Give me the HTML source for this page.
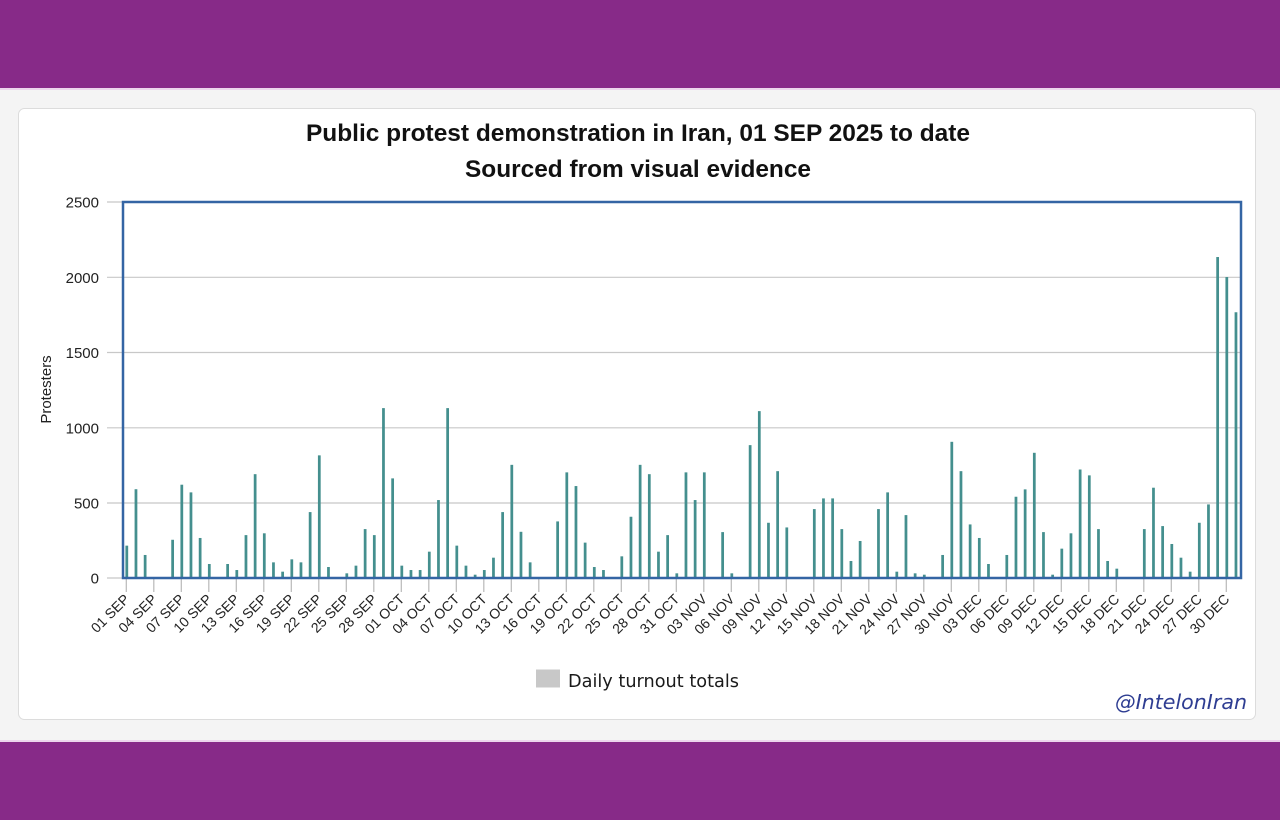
<!DOCTYPE html>
<html><head><meta charset="utf-8">
<style>
html,body{margin:0;padding:0;background:#f4f4f4;}
svg{display:block;}
</style></head>
<body>
<svg width="1280" height="820" viewBox="0 0 1280 820" xmlns="http://www.w3.org/2000/svg">
<rect x="0" y="0" width="1280" height="820" fill="#f4f4f4"/>
<rect x="0" y="0" width="1280" height="88" fill="#872a88"/>
<rect x="0" y="88" width="1280" height="2" fill="#ecd6ec"/>
<rect x="0" y="740" width="1280" height="2" fill="#ecd6ec"/>
<rect x="0" y="742" width="1280" height="78" fill="#872a88"/>
<!-- card -->
<rect x="18.5" y="108.5" width="1237" height="611" rx="6" ry="6" fill="#ffffff" stroke="#dcdcdc" stroke-width="1"/>
<!-- title -->
<text x="638" y="141" text-anchor="middle" font-family="Liberation Sans, Arial, sans-serif" font-weight="bold" font-size="24" fill="#111" textLength="664" lengthAdjust="spacingAndGlyphs">Public protest demonstration in Iran, 01 SEP 2025 to date</text>
<text x="638" y="177" text-anchor="middle" font-family="Liberation Sans, Arial, sans-serif" font-weight="bold" font-size="24" fill="#111" textLength="346" lengthAdjust="spacingAndGlyphs">Sourced from visual evidence</text>
<!-- gridlines -->
<g stroke="#c8c8c8" stroke-width="1.2">
<line x1="107" y1="202" x2="1241" y2="202"/>
<line x1="107" y1="277.3" x2="1241" y2="277.3"/>
<line x1="107" y1="352.5" x2="1241" y2="352.5"/>
<line x1="107" y1="427.8" x2="1241" y2="427.8"/>
<line x1="107" y1="503" x2="1241" y2="503"/>
<line x1="107" y1="578" x2="1241" y2="578"/>
</g>
<!-- y labels -->
<g font-family="Liberation Sans, Arial, sans-serif" font-size="15" fill="#222" text-anchor="end">
<text x="99" y="207.5">2500</text>
<text x="99" y="282.8">2000</text>
<text x="99" y="358">1500</text>
<text x="99" y="433.3">1000</text>
<text x="99" y="508.5">500</text>
<text x="99" y="583.5">0</text>
</g>
<text transform="translate(51,389.5) rotate(-90)" text-anchor="middle" font-family="Liberation Sans, Arial, sans-serif" font-size="15" fill="#222">Protesters</text>
<!-- x ticks -->
<g transform="translate(126.3,0) scale(27.5,1)" stroke="#bbbbbb" stroke-width="0.045">
<path d="M0 578V592M1 578V592M2 578V592M3 578V592M4 578V592M5 578V592M6 578V592M7 578V592M8 578V592M9 578V592M10 578V592M11 578V592M12 578V592M13 578V592M14 578V592M15 578V592M16 578V592M17 578V592M18 578V592M19 578V592M20 578V592M21 578V592M22 578V592M23 578V592M24 578V592M25 578V592M26 578V592M27 578V592M28 578V592M29 578V592M30 578V592M31 578V592M32 578V592M33 578V592M34 578V592M35 578V592M36 578V592M37 578V592M38 578V592M39 578V592M40 578V592"/>
</g>
<!-- bars -->
<g transform="translate(126.8,578) scale(9.1667,-0.15048)" fill="#448f8e">
<rect x="-0.15" width="0.3" y="0" height="215"/>
<rect x="0.85" width="0.3" y="0" height="590"/>
<rect x="1.85" width="0.3" y="0" height="153"/>
<rect x="4.85" width="0.3" y="0" height="254"/>
<rect x="5.85" width="0.3" y="0" height="620"/>
<rect x="6.85" width="0.3" y="0" height="569"/>
<rect x="7.85" width="0.3" y="0" height="266"/>
<rect x="8.85" width="0.3" y="0" height="93"/>
<rect x="10.85" width="0.3" y="0" height="93"/>
<rect x="11.85" width="0.3" y="0" height="53"/>
<rect x="12.85" width="0.3" y="0" height="285"/>
<rect x="13.85" width="0.3" y="0" height="690"/>
<rect x="14.85" width="0.3" y="0" height="297"/>
<rect x="15.85" width="0.3" y="0" height="104"/>
<rect x="16.85" width="0.3" y="0" height="42"/>
<rect x="17.85" width="0.3" y="0" height="124"/>
<rect x="18.85" width="0.3" y="0" height="104"/>
<rect x="19.85" width="0.3" y="0" height="438"/>
<rect x="20.85" width="0.3" y="0" height="815"/>
<rect x="21.85" width="0.3" y="0" height="73"/>
<rect x="23.85" width="0.3" y="0" height="31"/>
<rect x="24.85" width="0.3" y="0" height="82"/>
<rect x="25.85" width="0.3" y="0" height="325"/>
<rect x="26.85" width="0.3" y="0" height="285"/>
<rect x="27.85" width="0.3" y="0" height="1129"/>
<rect x="28.85" width="0.3" y="0" height="662"/>
<rect x="29.85" width="0.3" y="0" height="82"/>
<rect x="30.85" width="0.3" y="0" height="53"/>
<rect x="31.85" width="0.3" y="0" height="53"/>
<rect x="32.85" width="0.3" y="0" height="175"/>
<rect x="33.85" width="0.3" y="0" height="518"/>
<rect x="34.85" width="0.3" y="0" height="1129"/>
<rect x="35.85" width="0.3" y="0" height="215"/>
<rect x="36.85" width="0.3" y="0" height="82"/>
<rect x="37.85" width="0.3" y="0" height="22"/>
<rect x="38.85" width="0.3" y="0" height="53"/>
<rect x="39.85" width="0.3" y="0" height="135"/>
<rect x="40.85" width="0.3" y="0" height="438"/>
<rect x="41.85" width="0.3" y="0" height="752"/>
<rect x="42.85" width="0.3" y="0" height="307"/>
<rect x="43.85" width="0.3" y="0" height="104"/>
<rect x="46.85" width="0.3" y="0" height="376"/>
<rect x="47.85" width="0.3" y="0" height="702"/>
<rect x="48.85" width="0.3" y="0" height="611"/>
<rect x="49.85" width="0.3" y="0" height="235"/>
<rect x="50.85" width="0.3" y="0" height="73"/>
<rect x="51.85" width="0.3" y="0" height="53"/>
<rect x="53.85" width="0.3" y="0" height="144"/>
<rect x="54.85" width="0.3" y="0" height="407"/>
<rect x="55.85" width="0.3" y="0" height="752"/>
<rect x="56.85" width="0.3" y="0" height="690"/>
<rect x="57.85" width="0.3" y="0" height="175"/>
<rect x="58.85" width="0.3" y="0" height="285"/>
<rect x="59.85" width="0.3" y="0" height="31"/>
<rect x="60.85" width="0.3" y="0" height="702"/>
<rect x="61.85" width="0.3" y="0" height="518"/>
<rect x="62.85" width="0.3" y="0" height="702"/>
<rect x="64.85" width="0.3" y="0" height="305"/>
<rect x="65.85" width="0.3" y="0" height="31"/>
<rect x="67.85" width="0.3" y="0" height="883"/>
<rect x="68.85" width="0.3" y="0" height="1109"/>
<rect x="69.85" width="0.3" y="0" height="367"/>
<rect x="70.85" width="0.3" y="0" height="710"/>
<rect x="71.85" width="0.3" y="0" height="336"/>
<rect x="74.85" width="0.3" y="0" height="458"/>
<rect x="75.85" width="0.3" y="0" height="529"/>
<rect x="76.85" width="0.3" y="0" height="529"/>
<rect x="77.85" width="0.3" y="0" height="325"/>
<rect x="78.85" width="0.3" y="0" height="113"/>
<rect x="79.85" width="0.3" y="0" height="246"/>
<rect x="81.85" width="0.3" y="0" height="458"/>
<rect x="82.85" width="0.3" y="0" height="569"/>
<rect x="83.85" width="0.3" y="0" height="42"/>
<rect x="84.85" width="0.3" y="0" height="418"/>
<rect x="85.85" width="0.3" y="0" height="31"/>
<rect x="86.85" width="0.3" y="0" height="22"/>
<rect x="88.85" width="0.3" y="0" height="153"/>
<rect x="89.85" width="0.3" y="0" height="905"/>
<rect x="90.85" width="0.3" y="0" height="710"/>
<rect x="91.85" width="0.3" y="0" height="356"/>
<rect x="92.85" width="0.3" y="0" height="266"/>
<rect x="93.85" width="0.3" y="0" height="93"/>
<rect x="95.85" width="0.3" y="0" height="153"/>
<rect x="96.85" width="0.3" y="0" height="540"/>
<rect x="97.85" width="0.3" y="0" height="589"/>
<rect x="98.85" width="0.3" y="0" height="832"/>
<rect x="99.85" width="0.3" y="0" height="305"/>
<rect x="100.85" width="0.3" y="0" height="22"/>
<rect x="101.85" width="0.3" y="0" height="195"/>
<rect x="102.85" width="0.3" y="0" height="297"/>
<rect x="103.85" width="0.3" y="0" height="721"/>
<rect x="104.85" width="0.3" y="0" height="682"/>
<rect x="105.85" width="0.3" y="0" height="325"/>
<rect x="106.85" width="0.3" y="0" height="113"/>
<rect x="107.85" width="0.3" y="0" height="62"/>
<rect x="110.85" width="0.3" y="0" height="325"/>
<rect x="111.85" width="0.3" y="0" height="600"/>
<rect x="112.85" width="0.3" y="0" height="345"/>
<rect x="113.85" width="0.3" y="0" height="226"/>
<rect x="114.85" width="0.3" y="0" height="135"/>
<rect x="115.85" width="0.3" y="0" height="42"/>
<rect x="116.85" width="0.3" y="0" height="367"/>
<rect x="117.85" width="0.3" y="0" height="489"/>
<rect x="118.85" width="0.3" y="0" height="2133"/>
<rect x="119.85" width="0.3" y="0" height="2000"/>
<rect x="120.85" width="0.3" y="0" height="1766"/>
</g>
<!-- frame -->
<rect x="123" y="202" width="1118" height="376" fill="none" stroke="#3465a4" stroke-width="2.5"/>
<!-- x labels -->
<g font-family="Liberation Sans, Arial, sans-serif" font-size="14" fill="#222" text-anchor="end">
<text transform="translate(130.3,600) rotate(-45)">01 SEP</text>
<text transform="translate(157.8,600) rotate(-45)">04 SEP</text>
<text transform="translate(185.3,600) rotate(-45)">07 SEP</text>
<text transform="translate(212.8,600) rotate(-45)">10 SEP</text>
<text transform="translate(240.3,600) rotate(-45)">13 SEP</text>
<text transform="translate(267.8,600) rotate(-45)">16 SEP</text>
<text transform="translate(295.3,600) rotate(-45)">19 SEP</text>
<text transform="translate(322.8,600) rotate(-45)">22 SEP</text>
<text transform="translate(350.3,600) rotate(-45)">25 SEP</text>
<text transform="translate(377.8,600) rotate(-45)">28 SEP</text>
<text transform="translate(405.3,600) rotate(-45)">01 OCT</text>
<text transform="translate(432.8,600) rotate(-45)">04 OCT</text>
<text transform="translate(460.3,600) rotate(-45)">07 OCT</text>
<text transform="translate(487.8,600) rotate(-45)">10 OCT</text>
<text transform="translate(515.3,600) rotate(-45)">13 OCT</text>
<text transform="translate(542.8,600) rotate(-45)">16 OCT</text>
<text transform="translate(570.3,600) rotate(-45)">19 OCT</text>
<text transform="translate(597.8,600) rotate(-45)">22 OCT</text>
<text transform="translate(625.3,600) rotate(-45)">25 OCT</text>
<text transform="translate(652.8,600) rotate(-45)">28 OCT</text>
<text transform="translate(680.3,600) rotate(-45)">31 OCT</text>
<text transform="translate(707.8,600) rotate(-45)">03 NOV</text>
<text transform="translate(735.3,600) rotate(-45)">06 NOV</text>
<text transform="translate(762.8,600) rotate(-45)">09 NOV</text>
<text transform="translate(790.3,600) rotate(-45)">12 NOV</text>
<text transform="translate(817.8,600) rotate(-45)">15 NOV</text>
<text transform="translate(845.3,600) rotate(-45)">18 NOV</text>
<text transform="translate(872.8,600) rotate(-45)">21 NOV</text>
<text transform="translate(900.3,600) rotate(-45)">24 NOV</text>
<text transform="translate(927.8,600) rotate(-45)">27 NOV</text>
<text transform="translate(955.3,600) rotate(-45)">30 NOV</text>
<text transform="translate(982.8,600) rotate(-45)">03 DEC</text>
<text transform="translate(1010.3,600) rotate(-45)">06 DEC</text>
<text transform="translate(1037.8,600) rotate(-45)">09 DEC</text>
<text transform="translate(1065.3,600) rotate(-45)">12 DEC</text>
<text transform="translate(1092.8,600) rotate(-45)">15 DEC</text>
<text transform="translate(1120.3,600) rotate(-45)">18 DEC</text>
<text transform="translate(1147.8,600) rotate(-45)">21 DEC</text>
<text transform="translate(1175.3,600) rotate(-45)">24 DEC</text>
<text transform="translate(1202.8,600) rotate(-45)">27 DEC</text>
<text transform="translate(1230.3,600) rotate(-45)">30 DEC</text>
</g>
<!-- legend -->
<rect x="536" y="669.5" width="24" height="18" fill="#c8c8c8"/>
<text x="568" y="687" font-family="DejaVu Sans, Liberation Sans, sans-serif" font-size="17.5" fill="#1a1a1a" textLength="171" lengthAdjust="spacingAndGlyphs">Daily turnout totals</text>
<!-- watermark -->
<text x="1247" y="709" text-anchor="end" font-family="DejaVu Sans, Liberation Sans, sans-serif" font-style="italic" font-size="20.5" fill="#2e3d92" textLength="132" lengthAdjust="spacingAndGlyphs">@IntelonIran</text>
</svg>
</body></html>
